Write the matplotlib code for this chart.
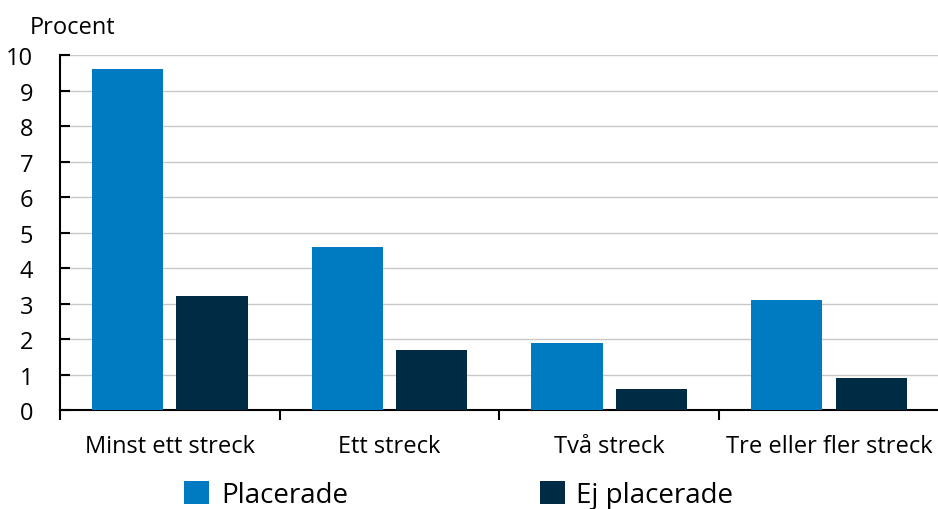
import matplotlib
matplotlib.use("Agg")
import matplotlib.pyplot as plt
import numpy as np

plt.rcParams['font.family'] = ['Open Sans', 'DejaVu Sans']

categories = ["Minst ett streck", "Ett streck", "Två streck", "Tre eller fler streck"]
placerade = [9.6, 4.6, 1.9, 3.1]
ej_placerade = [3.2, 1.7, 0.6, 0.9]
series_names = ["Placerade", "Ej placerade"]
colors = ["#007AC0", "#002B45"]

fig = plt.figure(figsize=(9.38, 5.10), dpi=100)
ax = fig.add_axes([0.0635, 0.194, 0.938, 0.696])

x = np.arange(len(categories))
w = 0.323
off = 0.193
ax.bar(x - off, placerade, w, color=colors[0], label=series_names[0], zorder=3)
ax.bar(x + off, ej_placerade, w, color=colors[1], label=series_names[1], zorder=3)

ax.set_xlim(-0.5, len(categories) - 0.5)
ax.set_ylim(0, 10)
ax.set_yticks(range(0, 11))
ax.yaxis.grid(True, color="#c8c8c8", linewidth=1, zorder=0)
ax.tick_params(axis='y', direction='in', length=7, width=1.5, labelsize=17, pad=19)

# category labels centered, ticks at group boundaries
ax.set_xticks(x)
ax.set_xticklabels(categories, fontsize=17)
ax.tick_params(axis='x', length=0, pad=17)
ax.set_xticks(np.arange(-0.5, len(categories) - 0.5, 1), minor=True)
ax.tick_params(axis='x', which='minor', direction='out', length=7, width=1.5)

for s in ['top', 'right']:
    ax.spines[s].set_visible(False)
ax.spines['left'].set_linewidth(1.5)
ax.spines['bottom'].set_linewidth(1.5)

fig.text(0.032, 0.945, "Procent", fontsize=17, va='center', ha='left')

fig.legend(loc='center', bbox_to_anchor=(0.489, 0.027), ncol=2, frameon=False,
           fontsize=20, handlelength=0.9, handleheight=0.9, handletextpad=0.43,
           columnspacing=6.9)

fig.savefig("out.png", dpi=100)
